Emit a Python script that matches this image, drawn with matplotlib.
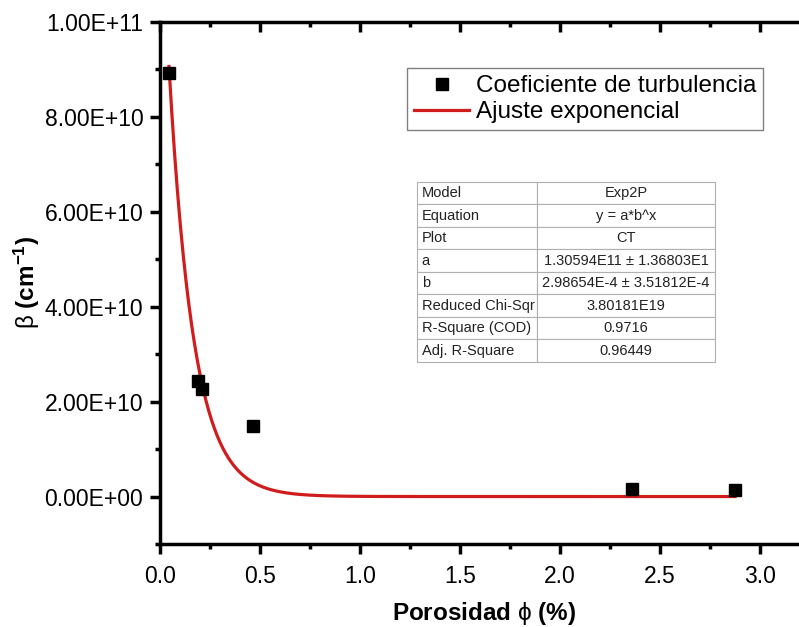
import numpy as np
import matplotlib
matplotlib.use("Agg")
import matplotlib.pyplot as plt
from matplotlib.ticker import MultipleLocator, FormatStrFormatter

plt.rcParams['font.family'] = ['Liberation Sans', 'DejaVu Sans']
plt.rcParams['mathtext.fontset'] = 'custom'
plt.rcParams['mathtext.rm'] = 'Liberation Sans'
plt.rcParams['mathtext.bf'] = 'Liberation Sans:bold'
plt.rcParams['mathtext.it'] = 'Liberation Sans'

# datos
porosidad = [0.045, 0.19, 0.21, 0.465, 2.36, 2.875]
beta = [8.93e10, 2.44e10, 2.27e10, 1.48e10, 0.15e10, 0.13e10]

# parametros del ajuste (Exp2P)
a_fit = 1.30594e11
b_fit = 2.98654e-4

table_rows = [
    ["Model", "Exp2P"],
    ["Equation", "y = a*b^x"],
    ["Plot", "CT"],
    ["a", "1.30594E11 \u00b1 1.36803E1"],
    ["b", "2.98654E-4 \u00b1 3.51812E-4"],
    ["Reduced Chi-Sqr", "3.80181E19"],
    ["R-Square (COD)", "0.9716"],
    ["Adj. R-Square", "0.96449"],
]

red = '#d01c1c'

fig = plt.figure(figsize=(7.99, 6.27), dpi=100)
ax = fig.add_axes([160/799, 83/627, 644/799, 522/627])

xfit = np.linspace(min(porosidad), max(porosidad), 400)
yfit = a_fit * b_fit ** xfit
ax.plot(xfit, yfit, color=red, lw=2.3, label='Ajuste exponencial', zorder=2)
ax.plot(porosidad, beta, 's', color='black', ms=8.5, linestyle='none',
        label='Coeficiente de turbulencia', zorder=3)

ax.set_xlim(0, 3.22)
ax.set_ylim(-1e10, 1e11)

ax.xaxis.set_major_locator(MultipleLocator(0.5))
ax.xaxis.set_minor_locator(MultipleLocator(0.25))
ax.yaxis.set_major_locator(MultipleLocator(2e10))
ax.yaxis.set_minor_locator(MultipleLocator(1e10))
ax.xaxis.set_major_formatter(FormatStrFormatter('%.1f'))
ax.yaxis.set_major_formatter(plt.FuncFormatter(
    lambda v, p: ('%.2E' % v).replace('E+0', 'E+') if abs(v) >= 1e10 else '%.2E' % v))

for s in ax.spines.values():
    s.set_linewidth(2.5)

ax.tick_params(axis='both', which='major', labelsize=16.5, width=2.5, length=7)
ax.tick_params(axis='both', which='minor', width=2.5, length=3.5)
ax.tick_params(axis='y', which='both', direction='out', pad=5)
ax.tick_params(axis='x', which='both', direction='out', top=True, pad=8)
# ticks superiores hacia dentro
for t in ax.xaxis.get_major_ticks() + ax.xaxis.get_minor_ticks():
    t.tick2line.set_marker(3)

ax.set_xlabel(r'$\mathbf{Porosidad}\ \phi\ \mathbf{(\%)}$', fontsize=17.5)
ax.xaxis.set_label_coords((484 - 160) / 644, -(600 - 544) / 522)
ax.set_ylabel(r'$\beta\ \mathbf{(cm^{-1})}$', fontsize=17.5)
ax.yaxis.set_label_coords(-(160 - 42) / 644, 0.5)

h, l = ax.get_legend_handles_labels()
leg = ax.legend(h[::-1], l[::-1], loc='upper left', bbox_to_anchor=(0.3835, 0.912),
                borderaxespad=0, fontsize=17.5, handlelength=2.25, handletextpad=0.27,
                borderpad=0.3, labelspacing=0.16, fancybox=False, framealpha=1,
                edgecolor='#808080')
leg.get_frame().set_linewidth(1.0)

tab = ax.table(cellText=table_rows, bbox=[0.399, 0.3487, 0.463, 0.3448],
               colWidths=[0.403, 0.597])
tab.auto_set_font_size(False)
tab.set_fontsize(10.5)
for (r, c), cell in tab.get_celld().items():
    cell.set_edgecolor('#b0b0b0')
    cell.set_linewidth(0.8)
    cell.PAD = 0.04
    cell.get_text().set_color('#222222')
    if c == 0:
        cell.get_text().set_ha('left')
        cell._loc = 'left'
    else:
        cell.get_text().set_ha('center')
        cell._loc = 'center'

fig.savefig('out.png', dpi=100)
